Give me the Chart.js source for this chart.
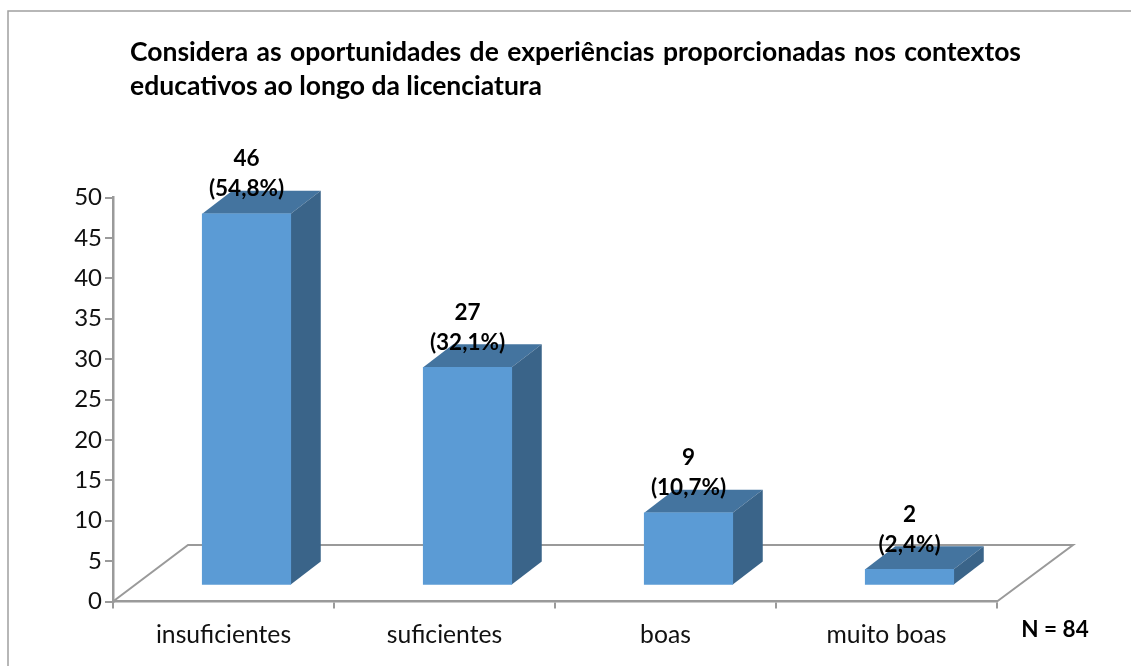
<!DOCTYPE html>
<html><head><meta charset="utf-8">
<style>html,body{margin:0;padding:0;background:#fff}#w{position:relative;width:1131px;height:666px}canvas{display:block}</style>
<script src="https://cdn.jsdelivr.net/npm/chart.js@4"></script>
</head><body><div id="w"><canvas id="c" width="1131" height="666"></canvas></div>
<script>
const categories = ['insuficientes','suficientes','boas','muito boas'];
const counts = [46,27,9,2];
const percents = ['(54,8%)','(32,1%)','(10,7%)','(2,4%)'];
const titleLines = ['Considera as oportunidades de experiências proporcionadas nos contextos','educativos ao longo da licenciatura'];
const note = 'N = 84';
const FONT = 'Lato, "Open Sans", sans-serif';
const DX=30, DY=-23, SHIFTX=23, SHIFTY=-16, GREY='#9a9a9a';

const scene = {
  id:'scene',
  beforeDraw(ch){
    const c=ch.ctx, a=ch.chartArea;
    c.save();
    c.fillStyle='#fff'; c.fillRect(0,0,ch.width,ch.height);
    c.strokeStyle='#a0a0a0'; c.lineWidth=1.5;
    c.strokeRect(8,11,1140,670);
    // floor
    c.strokeStyle=GREY; c.lineWidth=2;
    c.beginPath();
    c.moveTo(a.left,a.bottom); c.lineTo(a.left+75,a.bottom-56.5); c.lineTo(a.right+76,a.bottom-56.5); c.lineTo(a.right,a.bottom);
    c.stroke();
    // title
    c.fillStyle='#000'; c.font='bold 26.5px '+FONT; c.textBaseline='alphabetic'; c.textAlign='left';
    const x0=130,x1=1021;
    c.wordSpacing='0px';
    const w=c.measureText(titleLines[0]).width, n=titleLines[0].split(' ').length-1;
    c.wordSpacing=Math.max(0,(x1-x0-w)/n)+'px';
    c.fillText(titleLines[0],x0,61);
    c.wordSpacing='0px';
    c.fillText(titleLines[1],x0,95);
    c.restore();
  },
  beforeDatasetsDraw(ch){
    const c=ch.ctx;
    c.save(); c.translate(SHIFTX,SHIFTY);
    ch.getDatasetMeta(0).data.forEach(b=>{
      const l=b.x-b.width/2, r=b.x+b.width/2, t=b.y, bt=b.base;
      c.fillStyle='#44749f';
      c.beginPath(); c.moveTo(l,t); c.lineTo(l+DX,t+DY); c.lineTo(r+DX,t+DY); c.lineTo(r,t); c.closePath(); c.fill();
      c.fillStyle='#3a6489';
      c.beginPath(); c.moveTo(r,t); c.lineTo(r+DX,t+DY); c.lineTo(r+DX,bt+DY); c.lineTo(r,bt); c.closePath(); c.fill();
    });
  },
  afterDatasetsDraw(ch){
    const c=ch.ctx;
    c.restore();
    c.save();
    c.fillStyle='#000'; c.textAlign='center'; c.textBaseline='middle'; c.font='bold 22.5px '+FONT;
    ch.getDatasetMeta(0).data.forEach((b,i)=>{
      const x=b.x+SHIFTX, t=b.y+SHIFTY;
      c.fillText(String(counts[i]),x,t-55);
      c.fillText(percents[i],x,t-25);
    });
    c.fillText(note,1055,630);
    c.restore();
  }
};

new Chart(document.getElementById('c'),{
  type:'bar',
  data:{labels:categories,datasets:[{data:counts,backgroundColor:'#5b9bd5',barThickness:88.5}]},
  plugins:[scene],
  options:{
    responsive:false,animation:false,
    layout:{padding:{top:197.5,right:134,bottom:0,left:0}},
    plugins:{legend:{display:false},title:{display:false},tooltip:{enabled:false}},
    scales:{
      x:{grid:{drawOnChartArea:false,color:GREY,lineWidth:2,tickLength:7,tickColor:GREY},
         border:{color:GREY,width:2.5},
         ticks:{color:'#111',font:{family:FONT,size:24.7},padding:12,maxRotation:0},
         afterFit(s){s.height=64.5;}},
      y:{min:0,max:50,grid:{drawOnChartArea:false,color:GREY,lineWidth:2,tickLength:8,tickColor:GREY},
         border:{color:GREY,width:2.5},
         ticks:{stepSize:5,color:'#111',font:{family:FONT,size:24},padding:3},
         afterFit(s){s.width=113;}}
    }
  }
});
</script></body></html>
